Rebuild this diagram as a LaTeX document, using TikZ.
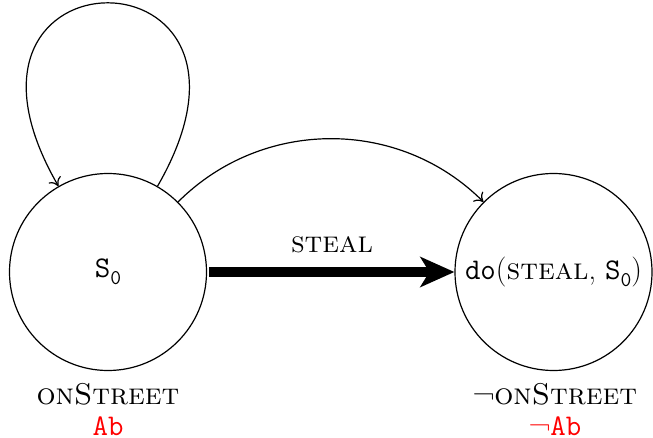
\documentclass[tikz,border=0pt]{standalone}
\usetikzlibrary{arrows.meta}
\newcommand{\szero}{\texttt{S}\raisebox{-0.22em}{\fontsize{21}{25}\selectfont\texttt{0}}}
\begin{document}
\begin{tikzpicture}[x=1pt,y=-1pt,
  font=\fontsize{30}{36}\selectfont,
  state/.style={draw,circle,line width=1.2pt,minimum size=197pt,inner sep=0pt},
  thin arrow/.style={line width=1.2pt,-{Computer Modern Rightarrow[length=8pt,width=14pt]}},
  big arrow/.style={line width=10pt,-{Stealth[length=34pt,width=30pt,inset=9pt]}},
  lbl/.style={inner sep=0pt},
  below lbl/.style={inner sep=0pt,align=center,anchor=north,font=\fontsize{30}{31}\selectfont}]
\useasboundingbox (0,0) rectangle (653,438);
\node[state] (s) at (108,272) {\szero};
\node[state] (d) at (553.5,272) {\texttt{do}(\textsc{steal}, \szero)};
\draw[big arrow, shorten <=2pt] (s.east) -- (d.west);
\node[lbl] (steal) at (332,245) {\textsc{steal}};
\draw[thin arrow] (s.45) to[out=45,in=135] (d.135);
\draw[thin arrow] (s.60) to[out=60,in=120,looseness=7.3] (s.120);
\node[below lbl] (l1) at (108,383) {\textsc{onStreet}\\\textcolor{red}{\texttt{Ab}}};
\node[below lbl] (l2) at (555,383) {\textlnot\textsc{onStreet}\\\textcolor{red}{\textlnot\texttt{Ab}}};
\end{tikzpicture}
\end{document}
